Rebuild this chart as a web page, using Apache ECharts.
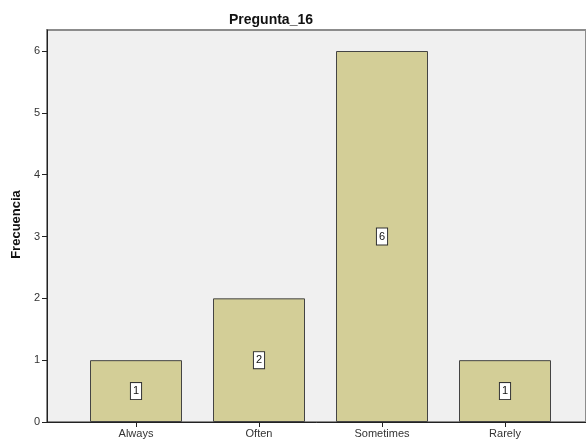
<!DOCTYPE html>
<html>
<head>
<meta charset="utf-8">
<script src="https://cdn.jsdelivr.net/npm/echarts@6/dist/echarts.min.js"></script>
<style>
	html, body { margin: 0; padding: 0; background: #fff; }
	#chart { width: 586px; height: 439px; }
</style>
</head>
<body>
<div id="chart"></div>
<script>
	// data
	var chartTitle = 'Pregunta_16';
	var yAxisName = 'Frecuencia';
	var categories = ['Always', 'Often', 'Sometimes', 'Rarely'];
	var counts = [1, 2, 6, 1];
	var yMax = 6;

	var fontFamily = 'Arial, "Liberation Sans", sans-serif';
	var axisColor = '#222';
	var labelColor = '#333';

	var chart = echarts.init(document.getElementById('chart'));

	var option = {
		animation: false,
		backgroundColor: '#fff',
		title: {
			text: chartTitle,
			left: 266,
			top: 8,
			textAlign: 'center',
			textStyle: { fontFamily: fontFamily, fontSize: 14, fontWeight: 'bold', color: '#111' }
		},
		grid: [
			// frame with the grey plot background
			{ left: 47, right: 0, top: 30, bottom: 17, show: true, backgroundColor: '#F0F0F0', borderColor: '#8c8c8c', borderWidth: 2 },
			// grid holding the bars, inset like the SPSS output
			{ left: 74.5, right: 19.5, top: 51, bottom: 17 },
			// grid carrying the y scale, ending at the last tick
			{ left: 47, right: 0, top: 51, bottom: 17 }
		],
		xAxis: [
			{
				gridIndex: 0, type: 'value', min: 0, max: 1,
				axisLine: { show: true, lineStyle: { color: axisColor, width: 1 } },
				axisTick: { show: false }, axisLabel: { show: false }, splitLine: { show: false }
			},
			{
				gridIndex: 1, type: 'category', data: categories,
				axisLine: { show: false },
				axisTick: { show: true, alignWithLabel: true, length: 5, lineStyle: { color: axisColor } },
				axisLabel: { fontFamily: fontFamily, fontSize: 11, color: labelColor, margin: 6 },
				splitLine: { show: false }
			},
			{ gridIndex: 2, type: 'value', show: false }
		],
		yAxis: [
			{
				gridIndex: 0, type: 'value', min: 0, max: 1,
				axisLine: { show: true, lineStyle: { color: axisColor, width: 1 } },
				axisTick: { show: false }, axisLabel: { show: false }, splitLine: { show: false }
			},
			{
				gridIndex: 1, type: 'value', min: 0, max: yMax, show: false
			},
			{
				gridIndex: 2, type: 'value', min: 0, max: yMax, interval: 1,
				name: yAxisName, nameLocation: 'middle', nameGap: 24, nameRotate: 90,
				nameTextStyle: { fontFamily: fontFamily, fontSize: 13, fontWeight: 'bold', color: '#111', padding: [0, 0, 0, 24] },
				axisLine: { show: false },
				axisTick: { show: true, length: 5, lineStyle: { color: axisColor } },
				axisLabel: { fontFamily: fontFamily, fontSize: 11, color: labelColor, margin: 7 },
				splitLine: { show: false }
			}
		],
		series: [
			{
				type: 'bar',
				xAxisIndex: 1,
				yAxisIndex: 1,
				data: counts,
				barWidth: 92,
				itemStyle: { color: '#D3CE97', borderColor: '#444', borderWidth: 1 },
				label: {
					show: true,
					position: 'inside',
					fontFamily: fontFamily,
					fontSize: 11,
					color: '#111',
					backgroundColor: '#fff',
					borderColor: '#333',
					borderWidth: 1,
					padding: [3, 2, 2, 2]
				}
			}
		]
	};

	chart.setOption(option);
</script>
</body>
</html>
